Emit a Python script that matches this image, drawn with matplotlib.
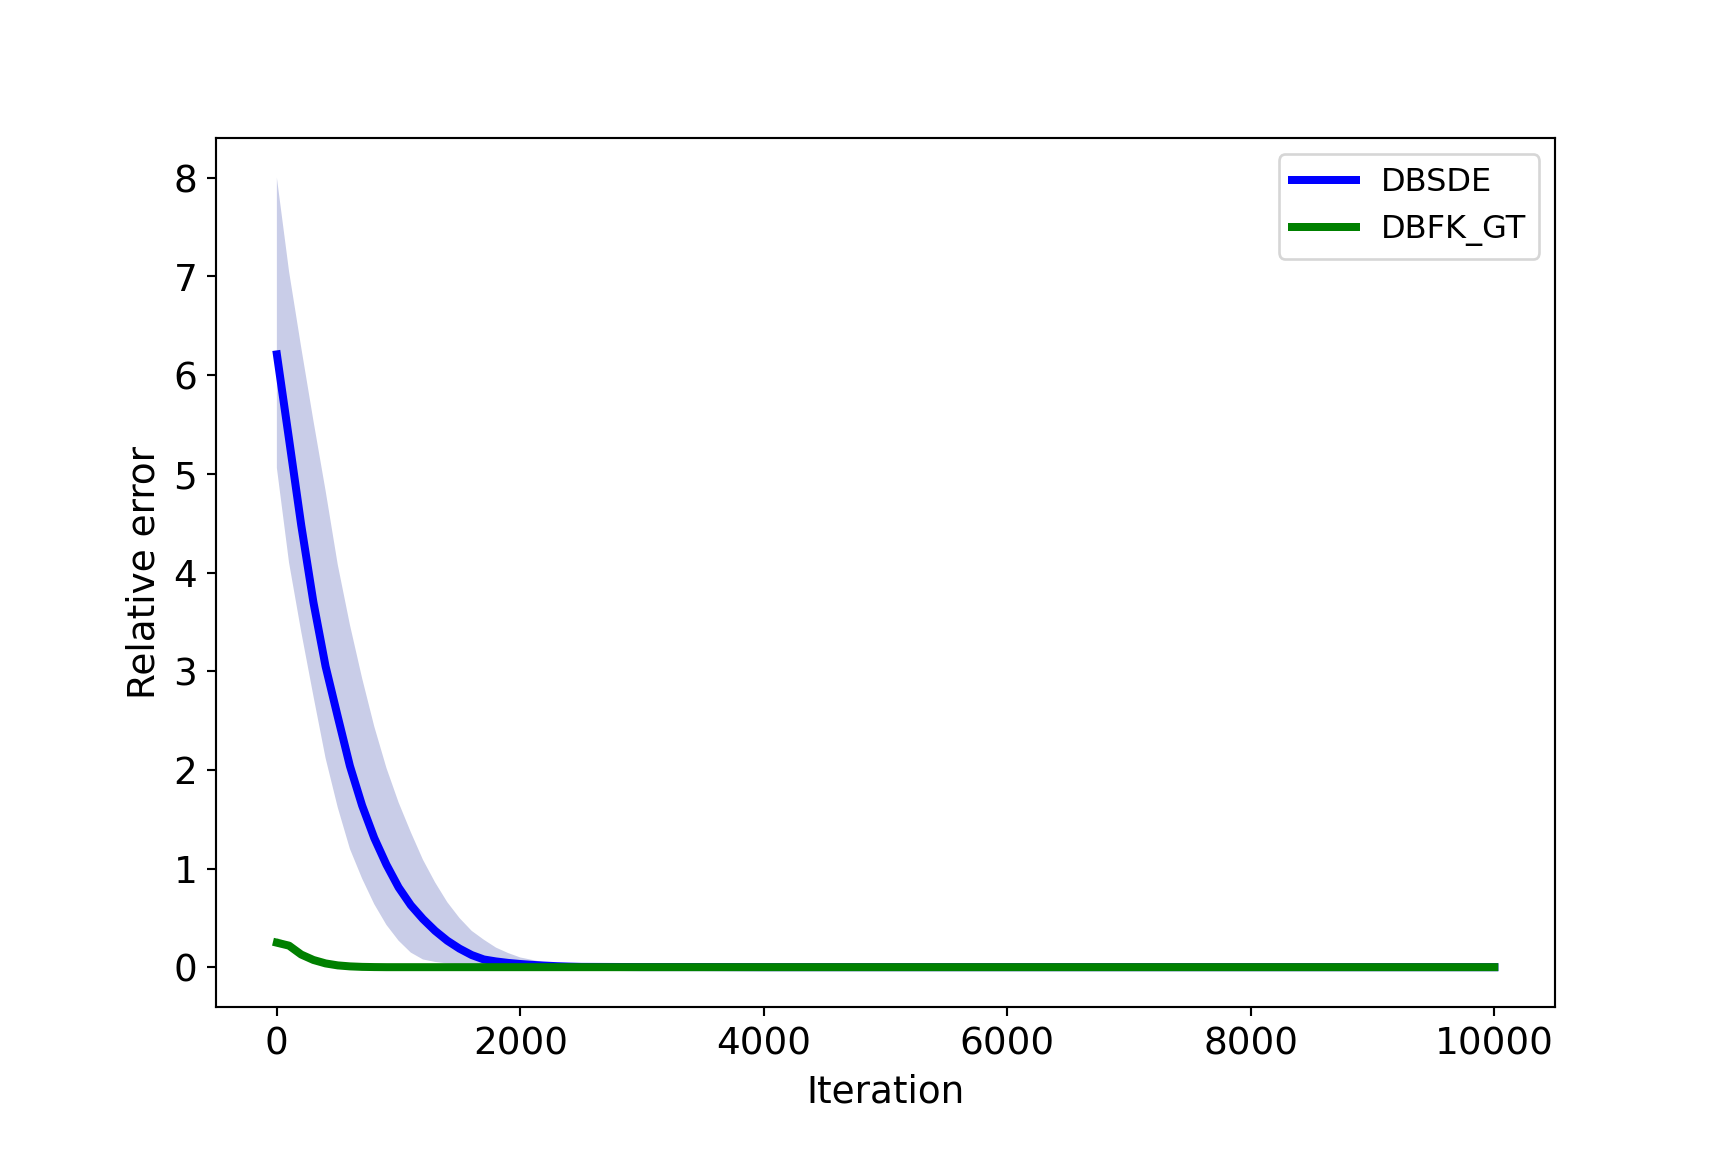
import matplotlib
matplotlib.use('Agg')
import matplotlib.pyplot as plt
import numpy as np

# iterations at which the relative error was recorded
iters = [0, 100, 200, 300, 400, 500, 600, 700, 800, 900, 1000,
         1100, 1200, 1300, 1400, 1500, 1600, 1700, 1800, 1900, 2000,
         2100, 2200, 2300, 2400, 2500,
         3000, 3500, 4000, 4500, 5000, 5500, 6000, 6500, 7000,
         7500, 8000, 8500, 9000, 9500, 10000]

# DBSDE: mean and band (min / max over runs)
dbsde_mean = [6.21, 5.35, 4.48, 3.70, 3.05, 2.54, 2.04, 1.64, 1.31, 1.04, 0.81,
              0.63, 0.49, 0.37, 0.27, 0.19, 0.125, 0.08, 0.06, 0.045, 0.034,
              0.025, 0.018, 0.012, 0.008, 0.005,
              0.003, 0.003, 0.002, 0.002, 0.002, 0.002, 0.002, 0.002, 0.002,
              0.002, 0.002, 0.002, 0.002, 0.002, 0.002]
dbsde_upper = [8.0, 7.05, 6.28, 5.54, 4.83, 4.08, 3.47, 2.93, 2.44, 2.02, 1.67,
               1.37, 1.09, 0.86, 0.66, 0.50, 0.37, 0.28, 0.20, 0.145, 0.10,
               0.075, 0.05, 0.035, 0.025, 0.018,
               0.01, 0.008, 0.006, 0.005, 0.005, 0.005, 0.005, 0.005, 0.005,
               0.005, 0.005, 0.005, 0.005, 0.005, 0.005]
dbsde_lower = [5.06, 4.10, 3.40, 2.75, 2.12, 1.62, 1.20, 0.90, 0.64, 0.43, 0.27,
               0.15, 0.08, 0.055, 0.04, 0.03, 0.02, 0.015, 0.012, 0.01, 0.008,
               0.006, 0.005, 0.004, 0.003, 0.002,
               0.001, 0.001, 0.0, 0.0, 0.0, 0.0, 0.0, 0.0, 0.0,
               0.0, 0.0, 0.0, 0.0, 0.0, 0.0]

# DBFK_GT: mean and band
dbfk_mean = [0.25, 0.22, 0.13, 0.075, 0.04, 0.02, 0.01, 0.005, 0.003, 0.002, 0.002,
             0.002, 0.002, 0.002, 0.002, 0.002, 0.002, 0.002, 0.002, 0.002, 0.002,
             0.002, 0.002, 0.002, 0.002, 0.002,
             0.002, 0.002, 0.002, 0.002, 0.002, 0.002, 0.002, 0.002, 0.002,
             0.002, 0.002, 0.002, 0.002, 0.002, 0.002]
dbfk_upper = [0.30, 0.25, 0.15, 0.085, 0.045, 0.025, 0.012, 0.006, 0.004, 0.003, 0.003,
              0.003, 0.003, 0.003, 0.003, 0.003, 0.003, 0.003, 0.003, 0.003, 0.003,
              0.003, 0.003, 0.003, 0.003, 0.003,
              0.003, 0.003, 0.003, 0.003, 0.003, 0.003, 0.003, 0.003, 0.003,
              0.003, 0.003, 0.003, 0.003, 0.003, 0.003]
dbfk_lower = [0.21, 0.19, 0.11, 0.065, 0.035, 0.015, 0.008, 0.004, 0.002, 0.001, 0.001,
              0.001, 0.001, 0.001, 0.001, 0.001, 0.001, 0.001, 0.001, 0.001, 0.001,
              0.001, 0.001, 0.001, 0.001, 0.001,
              0.001, 0.001, 0.001, 0.001, 0.001, 0.001, 0.001, 0.001, 0.001,
              0.001, 0.001, 0.001, 0.001, 0.001, 0.001]

fig, ax = plt.subplots(figsize=(9, 6), dpi=192)
fig.subplots_adjust(left=0.125, right=0.9, top=0.88, bottom=0.126)

ax.fill_between(iters, dbsde_lower, dbsde_upper, facecolor='#c9cde8', lw=0)
ax.plot(iters, dbsde_mean, color='b', lw=3, label='DBSDE')
ax.fill_between(iters, dbfk_lower, dbfk_upper, facecolor='g', alpha=0.2, lw=0)
ax.plot(iters, dbfk_mean, color='g', lw=3, label='DBFK_GT')

ax.tick_params(labelsize=14)
ax.set_xlabel('Iteration', fontsize=14)
ax.set_ylabel('Relative error', fontsize=14)
ax.legend(loc='upper right', fontsize=12)

plt.savefig('out.png', dpi=192)
